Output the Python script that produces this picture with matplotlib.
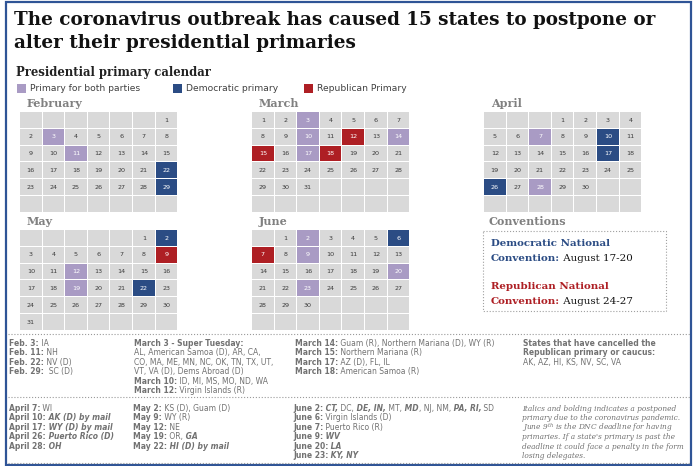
import calendar
import matplotlib
matplotlib.use("Agg")
import matplotlib.pyplot as plt
from matplotlib.patches import Rectangle

# data
year = 2020
months = [2, 3, 4, 5, 6]
month_names = ["February", "March", "April", "May", "June"]
both_dates = [(2, 3), (2, 11), (3, 3), (3, 10), (3, 14), (3, 17), (4, 7), (4, 28),
              (5, 12), (5, 19), (6, 2), (6, 9), (6, 20), (6, 23)]
dem_dates = [(2, 22), (2, 29), (4, 10), (4, 17), (4, 26), (5, 2), (5, 22), (6, 6)]
rep_dates = [(3, 12), (3, 15), (3, 18), (5, 9), (6, 7)]
legend_labels = ["Primary for both parties", "Democratic primary", "Republican Primary"]

title_lines = ["The coronavirus outbreak has caused 15 states to postpone or",
               "alter their presidential primaries"]
subtitle = "Presidential primary calendar"

# bottom notes: (text, style) pieces, b = bold, n = normal, bi = bold italic
notes_top = [
    [[("Feb. 3:", "b"), (" IA", "n")],
     [("Feb. 11:", "b"), (" NH", "n")],
     [("Feb. 22:", "b"), (" NV (D)", "n")],
     [("Feb. 29:", "b"), ("  SC (D)", "n")]],
    [[("March 3 - Super Tuesday:", "b")],
     [("AL, American Samoa (D), AR, CA,", "n")],
     [("CO, MA, ME, MN, NC, OK, TN, TX, UT,", "n")],
     [("VT, VA (D), Dems Abroad (D)", "n")],
     [("March 10:", "b"), (" ID, MI, MS, MO, ND, WA", "n")],
     [("March 12:", "b"), (" Virgin Islands (R)", "n")]],
    [[("March 14:", "b"), (" Guam (R), Northern Mariana (D), WY (R)", "n")],
     [("March 15:", "b"), (" Northern Mariana (R)", "n")],
     [("March 17:", "b"), (" AZ (D), FL, IL", "n")],
     [("March 18:", "b"), (" American Samoa (R)", "n")]],
    [[("States that have cancelled the", "b")],
     [("Republican primary or caucus:", "b")],
     [("AK, AZ, HI, KS, NV, SC, VA", "n")]],
]
notes_bottom = [
    [[("April 7:", "b"), (" WI", "n")],
     [("April 10:", "b"), (" AK (D) by mail", "bi")],
     [("April 17:", "b"), (" WY (D) by mail", "bi")],
     [("April 26:", "b"), (" Puerto Rico (D)", "bi")],
     [("April 28:", "b"), (" OH", "bi")]],
    [[("May 2:", "b"), (" KS (D), Guam (D)", "n")],
     [("May 9:", "b"), (" WY (R)", "n")],
     [("May 12:", "b"), (" NE", "n")],
     [("May 19:", "b"), (" OR,", "n"), (" GA", "bi")],
     [("May 22:", "b"), (" HI (D) by mail", "bi")]],
    [[("June 2:", "b"), (" CT,", "bi"), (" DC,", "n"), (" DE, IN,", "bi"), (" MT,", "n"),
      (" MD", "bi"), (", NJ, NM,", "n"), (" PA, RI,", "bi"), (" SD", "n")],
     [("June 6:", "b"), (" Virgin Islands (D)", "n")],
     [("June 7:", "b"), (" Puerto Rico (R)", "n")],
     [("June 9:", "b"), (" WV", "bi")],
     [("June 20:", "b"), (" LA", "bi")],
     [("June 23:", "b"), (" KY, NY", "bi")]],
]
footnote = ["Italics and bolding indicates a postponed",
            "primary due to the coronavirus pandemic.",
            r"June 9$^{th}$ is the DNC deadline for having",
            "primaries. If a state's primary is past the",
            "deadline it could face a penalty in the form",
            "losing delegates."]

# colours
c_both = "#A99BC4"
c_dem = "#2B4C84"
c_rep = "#AE1F24"
c_cell = "#D9D9D9"
c_note = "#727272"

plt.rcParams["mathtext.fontset"] = "custom"
plt.rcParams["mathtext.rm"] = "DejaVu Serif:italic"
plt.rcParams["mathtext.it"] = "DejaVu Serif:italic"

fig = plt.figure(figsize=(6.94, 4.66), dpi=100)
ax = fig.add_axes([0, 0, 1, 1])
ax.set_xlim(0, 694)
ax.set_ylim(466, 0)
ax.axis("off")


def run_text(x, y, parts, size=5.5, color=c_note, family="DejaVu Sans"):
    t = None
    for p in parts:
        s, st = p[0], p[1]
        col = p[2] if len(p) > 2 else color
        kw = dict(fontsize=size, color=col, family=family, ha="left",
                  fontweight="bold" if "b" in st else "normal",
                  fontstyle="italic" if "i" in st else "normal")
        if t is None:
            t = ax.text(x, y, s, va="baseline", **kw)
        else:
            t = ax.annotate(s, xy=(1, 0), xycoords=t, va="bottom",
                            annotation_clip=False, **kw)
    return t


# frame
ax.add_patch(Rectangle((6, 2), 685, 463, fill=False, ec="#2F5496", lw=1.6))

# title
ax.text(14, 25, title_lines[0], family="DejaVu Serif", fontweight="bold",
        fontsize=13.2, color="#111111", va="baseline")
ax.text(14, 48, title_lines[1], family="DejaVu Serif", fontweight="bold",
        fontsize=13.2, color="#111111", va="baseline")
ax.text(16, 76, subtitle, family="DejaVu Serif", fontweight="bold",
        fontsize=8.4, color="#222222", va="baseline")

# legend
for lx, lab, col in zip([17, 173, 304], legend_labels, [c_both, c_dem, c_rep]):
    ax.add_patch(Rectangle((lx, 84), 9, 9, color=col, lw=0))
    ax.text(lx + 13, 88.5, lab, fontsize=6.6, color="#404040", va="center")

# calendars
origins = {2: (20, 112), 3: (252, 112), 4: (484, 112), 5: (20, 230), 6: (252, 230)}
pw, ph = 22.6, 16.8
cw, ch = 21.6, 15.8
cal = calendar.Calendar(firstweekday=6)
colour_of = {}
for d in both_dates:
    colour_of[d] = c_both
for d in dem_dates:
    colour_of[d] = c_dem
for d in rep_dates:
    colour_of[d] = c_rep

for m, name in zip(months, month_names):
    x0, y0 = origins[m]
    ax.text(x0 + 7, y0 - 5, name, family="DejaVu Serif", fontweight="bold",
            fontsize=8.0, color="#808080", va="baseline")
    weeks = cal.monthdayscalendar(year, m)
    while len(weeks) < 6:
        weeks.append([0] * 7)
    for r, week in enumerate(weeks):
        for c, day in enumerate(week):
            fc = colour_of.get((m, day), c_cell)
            ax.add_patch(Rectangle((x0 + c * pw, y0 + r * ph), cw, ch, color=fc, lw=0))
            if day:
                ax.text(x0 + c * pw + cw / 2, y0 + r * ph + ch / 2 + 0.3, str(day),
                        ha="center", va="center", fontsize=4.6,
                        color="white" if fc != c_cell else "#3A3A3A")

# conventions
ax.text(489, 225, "Conventions", family="DejaVu Serif", fontweight="bold",
        fontsize=8.0, color="#808080", va="baseline")
ax.add_patch(Rectangle((483, 231), 183, 80, fill=False, ec="#A0A0A0", lw=0.8, ls=":"))
run_text(491, 246, [("Democratic National", "b", c_dem)], size=7.4, family="DejaVu Serif")
run_text(491, 261, [("Convention:", "b", c_dem), (" August 17-20", "n", "#111111")],
         size=7.4, family="DejaVu Serif")
run_text(491, 289, [("Republican National", "b", c_rep)], size=7.4, family="DejaVu Serif")
run_text(491, 304, [("Convention:", "b", c_rep), (" August 24-27", "n", "#111111")],
         size=7.4, family="DejaVu Serif")

# dotted separators
for yy in [334, 397, 463]:
    ax.plot([8, 690], [yy, yy], ls=":", color="#9A9A9A", lw=0.8)

# notes
lh = 9.45
for cx, block in zip([9, 134, 295, 523], notes_top):
    for i, parts in enumerate(block):
        run_text(cx, 346 + i * lh, parts)
for cx, block in zip([9, 133, 293], notes_bottom):
    for i, parts in enumerate(block):
        run_text(cx, 411 + i * lh, parts)
for i, line in enumerate(footnote):
    ax.text(522, 411 + i * lh, line, family="DejaVu Serif", fontstyle="italic",
            fontsize=5.3, color=c_note, va="baseline")

fig.savefig("out.png", dpi=100)
